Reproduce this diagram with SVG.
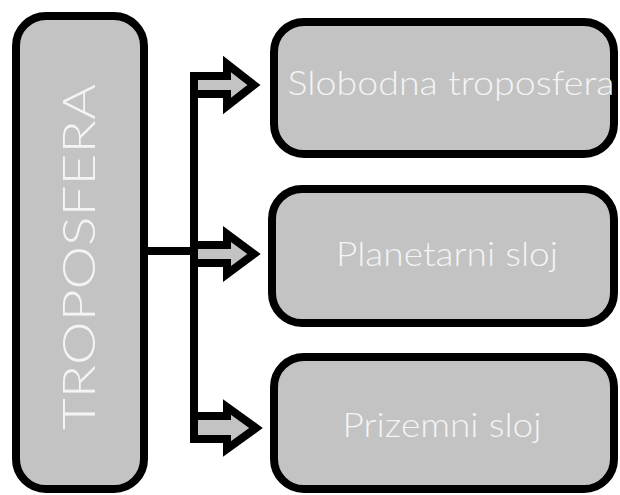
<svg xmlns="http://www.w3.org/2000/svg" width="620" height="495" viewBox="0 0 620 495">
<style>
.box{fill:#c3c3c3;stroke:#000;stroke-width:8}
.lbl{fill:#f4f4f4;font-family:Lato,"Open Sans","Liberation Sans",sans-serif;font-weight:300;font-size:34px;text-anchor:middle}
.arr{fill:#c3c3c3;stroke:#000;stroke-width:8;stroke-linejoin:miter}
.ln{fill:none;stroke:#000;stroke-width:8}
</style>
<rect width="620" height="495" fill="#fff"/>
<g id="troposfera">
<rect class="box" x="16" y="16" width="128" height="473" rx="30"/>
<text class="lbl" transform="translate(95,257) rotate(-90)" style="font-size:46px" textLength="346" lengthAdjust="spacingAndGlyphs">TROPOSFERA</text>
</g>
<g id="connectors">
<path class="ln" d="M144 251 H194 M194 76 V439"/>
<polygon class="arr" points="194,76 227,76 227,64 254,85 227,106 227,94 194,94"/>
<polygon class="arr" points="194,245 227,245 227,234 254,254 227,274 227,263 194,263"/>
<polygon class="arr" points="194,416 227,416 227,407 256,428 227,449 227,439 194,439"/>
</g>
<g id="slobodna">
<rect class="box" x="274" y="22" width="340" height="132" rx="30"/>
<text class="lbl" x="451" y="95" textLength="327" lengthAdjust="spacingAndGlyphs">Slobodna troposfera</text>
</g>
<g id="planetarni">
<rect class="box" x="272" y="189" width="342" height="134" rx="30"/>
<text class="lbl" x="447" y="266" textLength="222" lengthAdjust="spacingAndGlyphs">Planetarni sloj</text>
</g>
<g id="prizemni">
<rect class="box" x="274" y="357" width="340" height="132" rx="30"/>
<text class="lbl" x="442" y="437" textLength="199" lengthAdjust="spacingAndGlyphs">Prizemni sloj</text>
</g>
</svg>
